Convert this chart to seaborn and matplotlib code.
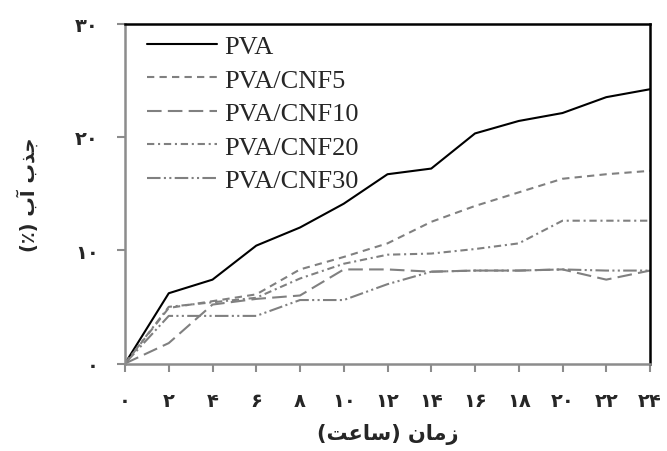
import numpy as np
import pandas as pd
import seaborn as sns
import matplotlib.pyplot as plt

# Water uptake (%) versus immersion time (hours)
hours = [0, 2, 4, 6, 8, 10, 12, 14, 16, 18, 20, 22, 24]
pva = [0, 6.2, 7.4, 10.4, 12.0, 14.1, 16.7, 17.2, 20.3, 21.4, 22.1, 23.5, 24.2]
pva_cnf5 = [0, 4.9, 5.5, 6.1, 8.3, 9.4, 10.6, 12.5, 13.9, 15.1, 16.3, 16.7, 17.0]
pva_cnf10 = [0, 1.8, 5.2, 5.7, 6.0, 8.3, 8.3, 8.1, 8.2, 8.2, 8.3, 7.4, 8.2]
pva_cnf20 = [0, 5.0, 5.4, 5.8, 7.5, 8.8, 9.6, 9.7, 10.1, 10.6, 12.6, 12.6, 12.6]
pva_cnf30 = [0, 4.2, 4.2, 4.2, 5.6, 5.6, 7.0, 8.1, 8.2, 8.2, 8.3, 8.2, 8.2]

samples = ["PVA", "PVA/CNF5", "PVA/CNF10", "PVA/CNF20", "PVA/CNF30"]

# Persian (Extended Arabic-Indic) tick labels
x_tick_labels = ["۰", "۲", "۴", "۶", "۸", "۱۰", "۱۲", "۱۴", "۱۶", "۱۸", "۲۰", "۲۲", "۲۴"]
y_ticks = [0, 10, 20, 30]
y_tick_labels = ["۰", "۱۰", "۲۰", "۳۰"]

# Axis titles, written with Arabic presentation forms in visual (left-to-right) order
x_title = "(\uFE96\uFECB\uFE8E\uFEB3) \uFEE5\uFE8E\uFEE3\uFEAF"   # زمان (ساعت)
y_title = "(٪) \uFE8F\uFE81 \uFE8F\uFEAC\uFE9F"                   # جذب آب (٪)

df = pd.DataFrame({
    "hours": hours * 5,
    "uptake": pva + pva_cnf5 + pva_cnf10 + pva_cnf20 + pva_cnf30,
    "sample": np.repeat(samples, len(hours)),
})

sns.set_theme(style="white")
plt.rcParams["font.family"] = ["Liberation Serif", "DejaVu Sans"]

palette = {"PVA": "black", "PVA/CNF5": "#808080", "PVA/CNF10": "#808080",
           "PVA/CNF20": "#808080", "PVA/CNF30": "#808080"}
dashes = {"PVA": "",
          "PVA/CNF5": (3.5, 2.5),
          "PVA/CNF10": (7, 3),
          "PVA/CNF20": (3.5, 1.8, 1, 1.8),
          "PVA/CNF30": (6.5, 1.6, 1, 1.6, 1, 1.6)}

fig = plt.figure(figsize=(6.67, 4.52), dpi=100)
ax = fig.add_axes([125 / 667, 1 - 364.5 / 452, 525 / 667, 340 / 452])

sns.lineplot(data=df, x="hours", y="uptake", hue="sample", style="sample",
             hue_order=samples, style_order=samples, palette=palette,
             dashes=dashes, linewidth=1.5, ax=ax, legend=False)

ax.set_xlim(0, 24)
ax.set_ylim(0, 30)
ax.set_xticks(hours)
ax.set_xticklabels(x_tick_labels)
ax.set_yticks(y_ticks)
ax.set_yticklabels(y_tick_labels)

for lab in ax.get_xticklabels() + ax.get_yticklabels():
    lab.set_fontfamily(["DejaVu Sans"])
    lab.set_fontweight("bold")
    lab.set_fontsize(14)

ax.tick_params(axis="both", which="major", direction="out", length=6, width=1.5,
               color="#8c8c8c", bottom=True, left=True)
ax.tick_params(axis="x", pad=14)
ax.tick_params(axis="y", pad=13)

for side in ["left", "bottom"]:
    ax.spines[side].set_color("#8c8c8c")
    ax.spines[side].set_linewidth(1.8)
for side in ["top", "right"]:
    ax.spines[side].set_color("black")
    ax.spines[side].set_linewidth(1.8)

ax.set_xlabel(x_title, family=["DejaVu Sans"], fontweight="bold", fontsize=15, labelpad=9)
ax.set_ylabel(y_title, family=["DejaVu Sans"], fontweight="bold", fontsize=14, labelpad=26)

ax.legend(ax.lines[:5], samples, loc="upper left", bbox_to_anchor=(0.011, 1.014),
          frameon=False, fontsize=19, handlelength=2.65, handletextpad=0.3,
          labelspacing=0.38, borderaxespad=0.2)

fig.savefig("out.png", dpi=100, facecolor="white")
